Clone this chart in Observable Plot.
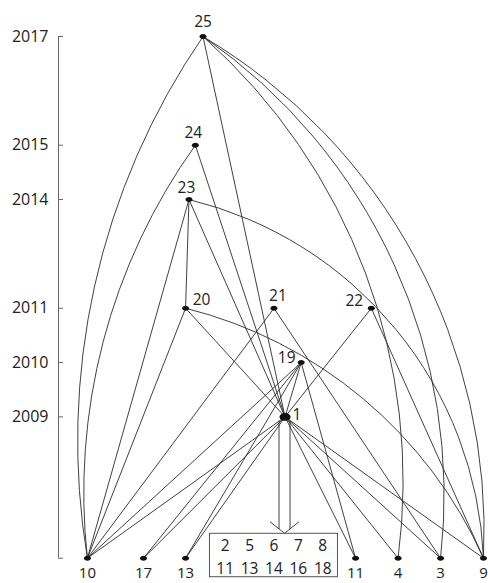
<!DOCTYPE html>
<html>
<head>
<meta charset="utf-8">
<script src="https://cdn.jsdelivr.net/npm/d3@7"></script>
<script src="https://cdn.jsdelivr.net/npm/@observablehq/plot@0.6"></script>
<style>
html, body { margin: 0; padding: 0; background: #fff; }
#chart svg { display: block; }
</style>
</head>
<body>
<div id="chart"></div>
<script>
// ---- data ----
const nodeIds   = ["25","24","23","20","21","22","19","1","10","17","13","11","4","3","9"];
const nodeYears = [2017,2015,2014,2011,2011,2011,2010,2009,2006,2006,2006,2006,2006,2006,2006];
const nodeSlots = [34.0,32.2,30.7,29.9,50.7,73.6,57.1,53.3,6.8,20.0,29.9,69.9,79.9,89.9,100];
const BASE = 2006; // bottom row: earlier / undated works (no year label)

const lineFrom = ["25","24","23","23","23","20","20","21","21","22","22","19","19","19","19","19","1","1","1","1","1","1","1"];
const lineTo   = ["1","1","10","20","1","10","1","10","3","1","9","10","17","13","1","11","10","17","13","11","4","3","9"];

const arcFrom = ["25","24","25","25","25","23","20"];
const arcTo   = ["10","10","4","3","9","9","9"];
const arcBend = [-22,-21,28,31,31,37,26];

const boxRow1 = ["2","5","6","7","8"];
const boxRow2 = ["11","13","14","16","18"];
const boxSlot = 50.7;

const yearTicks = [2017,2015,2014,2011,2010,2009];

// timeline rows: years are placed on a broken (piecewise) axis
const rowYears  = [2017, 2015, 2014, 2011, 2009, BASE];
const rowLevels = [0, 2, 3, 5, 7, 9.6];
const yearToRow = d3.scaleLinear().domain(rowYears).range(rowLevels);

// ---- build ----
const nodes = nodeIds.map((id, i) => ({id, year: nodeYears[i], slot: nodeSlots[i]}));
const byId = new Map(nodes.map(n => [n.id, n]));
const lines = lineFrom.map((s, i) => ({s: byId.get(s), t: byId.get(lineTo[i])}));
const arcs = arcFrom.map((s, i) => ({s: byId.get(s), t: byId.get(arcTo[i]), bend: arcBend[i]}));

const font = "'Open Sans', 'Noto Sans', sans-serif";
const ink = "#2b2b2b";

const labelOffset = {
  "25": [0, -14], "24": [-2, -12.6], "23": [-2.6, -11.3], "20": [16, -8.3],
  "21": [4, -12.3], "22": [-17, -7], "19": [-14.5, -4.5], "1": [12, -2]
};

const ellipse = {
  draw(ctx, size) {
    const r = Math.sqrt(size / Math.PI), rx = r * 1.2, ry = r * 0.85, k = 0.5523;
    ctx.moveTo(rx, 0);
    ctx.bezierCurveTo(rx, ry * k, rx * k, ry, 0, ry);
    ctx.bezierCurveTo(-rx * k, ry, -rx, ry * k, -rx, 0);
    ctx.bezierCurveTo(-rx, -ry * k, -rx * k, -ry, 0, -ry);
    ctx.bezierCurveTo(rx * k, -ry, rx, -ry * k, rx, 0);
    ctx.closePath();
  }
};

// hollow arrow from the hub (1) down to the box of merged works
function hubArrow(index, scales) {
  const hub = byId.get("1");
  const cx = scales.x(hub.slot), y0 = scales.y(yearToRow(hub.year)), tip = scales.y(yearToRow(BASE)) - 24.4;
  const g = d3.create("svg:g").attr("fill", "none").attr("stroke", ink).attr("stroke-width", 0.9);
  g.append("path").attr("d",
    `M${cx - 5.5},${y0 + 4}V${tip - 4.4}M${cx + 5.5},${y0 + 4}V${tip - 4.4}` +
    `M${cx - 14.5},${tip - 11.6}L${cx},${tip}L${cx + 14.5},${tip - 11.6}`);
  return g.node();
}

function boxFrame(index, scales) {
  const cx = scales.x(boxSlot), cy = scales.y(yearToRow(BASE));
  return d3.create("svg:rect")
    .attr("x", cx - 64).attr("y", cy - 24.4).attr("width", 128).attr("height", 43.4)
    .attr("fill", "none").attr("stroke", "#555").attr("stroke-width", 1).node();
}

const colStep = 5.74;

const marks = [
  // axis
  Plot.ruleX([0], {x: d => d, y1: 2017, y2: BASE, stroke: "#666", strokeWidth: 1}),
  Plot.ruleY([...yearTicks, BASE], {y: d => d, x1: 0, x2: 0, insetRight: -5, stroke: "#666", strokeWidth: 1}),
  Plot.text(yearTicks, {x: 0, y: d => d, text: d => String(d), textAnchor: "end", dx: -10, fontSize: 16, fill: "#222", fontFamily: font}),
  // edges
  Plot.link(lines, {x1: d => d.s.slot, y1: d => d.s.year, x2: d => d.t.slot, y2: d => d.t.year, stroke: ink, strokeWidth: 0.9}),
  ...arcs.map(a => Plot.arrow([a], {x1: d => d.s.slot, y1: d => d.s.year, x2: d => d.t.slot, y2: d => d.t.year,
      bend: a.bend, headLength: 0, stroke: ink, strokeWidth: 0.9})),
  hubArrow,
  boxFrame,
  Plot.text(boxRow1, {x: (d, i) => boxSlot + (i - 2) * colStep, y: () => BASE, dy: -12, text: d => d, fontSize: 15.5, fill: "#222", fontFamily: font}),
  Plot.text(boxRow2, {x: (d, i) => boxSlot + (i - 2) * colStep, y: () => BASE, dy: 10.5, text: d => d, fontSize: 15.5, fill: "#222", fontFamily: font}),
  // nodes
  Plot.dot(nodes.filter(n => n.id !== "1"), {x: "slot", y: "year", r: 2.9, symbol: ellipse, fill: "#111", stroke: null}),
  Plot.dot(nodes.filter(n => n.id === "1"), {x: "slot", y: "year", r: 4.6, symbol: ellipse, fill: "#111", stroke: null}),
  // node labels
  ...nodes.map(n => {
    const off = labelOffset[n.id];
    const [dx, dy] = off || [0, 15];
    return Plot.text([n], {x: "slot", y: "year", text: "id", dx, dy, fontSize: off ? 15.5 : 15, fill: "#222", fontFamily: font});
  })
];

const chart = Plot.plot({
  width: 488,
  height: 583,
  margin: 0,
  style: {background: "#fff", fontFamily: font},
  x: {domain: [0, 100], range: [58, 483], axis: null},
  y: {transform: yearToRow, domain: [0, 9.6], range: [36, 557.7], axis: null},
  marks
});
document.getElementById("chart").appendChild(chart);
</script>
</body>
</html>
